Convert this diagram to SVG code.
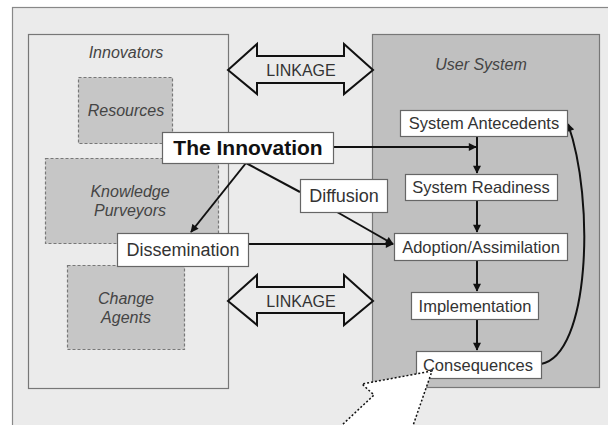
<svg xmlns="http://www.w3.org/2000/svg" width="608" height="425" viewBox="0 0 608 425">
<style>
.lbl{font-family:"Liberation Sans",Arial,sans-serif;fill:#333;text-anchor:middle}
.it{font-family:"Liberation Sans",Arial,sans-serif;font-style:italic;fill:#444;text-anchor:middle;font-size:16px}
.wbox{fill:#fff;stroke:#666;stroke-width:1.2}
.dbox{fill:#c6c6c6;stroke:#777;stroke-width:1.2;stroke-dasharray:3 2}
.con{fill:none;stroke:#111;stroke-width:2}
.link{fill:#ebebeb;stroke:#111;stroke-width:2;stroke-linejoin:miter}
</style>
<defs>
<marker id="ah" viewBox="0 0 10 10" refX="9" refY="5" markerWidth="9" markerHeight="8" markerUnits="userSpaceOnUse" orient="auto">
<path d="M0,0 L10,5 L0,10 z" fill="#111"/>
</marker>
</defs>
<rect width="608" height="425" fill="#fff"/>
<rect id="frame" x="12.5" y="7.5" width="640" height="440" fill="#ebebeb" stroke="#888" stroke-width="1.2"/>

<g id="innovators">
<rect x="28.5" y="34.5" width="200" height="354" fill="#ebebeb" stroke="#777" stroke-width="1.2"/>
<text class="it" x="126" y="58">Innovators</text>
</g>
<g id="resources">
<rect class="dbox" x="78.5" y="77.5" width="94" height="66"/>
<text class="it" x="126" y="116">Resources</text>
</g>
<g id="knowledge-purveyors">
<rect class="dbox" x="45.5" y="158.5" width="173" height="85"/>
<text class="it" x="130" y="197">Knowledge</text>
<text class="it" x="130" y="216">Purveyors</text>
</g>
<g id="change-agents">
<rect class="dbox" x="67.5" y="265.5" width="117" height="84"/>
<text class="it" x="126" y="304">Change</text>
<text class="it" x="126" y="323">Agents</text>
</g>

<g id="user-system">
<rect x="372.5" y="34.5" width="227" height="353" fill="#c0c0c0" stroke="#777" stroke-width="1.2"/>
<text class="it" x="481" y="70">User System</text>
</g>

<g id="linkage-top">
<path class="link" d="M228,70 L257,44 L257,56 L344,56 L344,44 L373,70 L344,94 L344,83 L257,83 L257,94 Z"/>
<text class="lbl" x="301" y="76" font-size="16">LINKAGE</text>
</g>
<g id="linkage-bottom">
<path class="link" d="M228,301 L257,275 L257,287 L344,287 L344,275 L373,301 L344,325 L344,313 L257,313 L257,325 Z"/>
<text class="lbl" x="301" y="307" font-size="16">LINKAGE</text>
</g>

<g id="connectors">
<line class="con" x1="333" y1="147" x2="476" y2="147" marker-end="url(#ah)"/>
<line class="con" x1="477" y1="136" x2="477" y2="173" marker-end="url(#ah)"/>
<line class="con" x1="477" y1="200" x2="477" y2="232" marker-end="url(#ah)"/>
<line class="con" x1="477" y1="260" x2="477" y2="291" marker-end="url(#ah)"/>
<line class="con" x1="477" y1="319" x2="477" y2="350" marker-end="url(#ah)"/>
<line class="con" x1="246" y1="163" x2="191" y2="232" marker-end="url(#ah)"/>
<line class="con" x1="246" y1="163" x2="300" y2="192"/>
<line class="con" x1="337" y1="212" x2="393" y2="244" marker-end="url(#ah)"/>
<line class="con" x1="248" y1="244" x2="393" y2="244" marker-end="url(#ah)"/>
<path class="con" d="M541,364 C590,355 595,200 568,124" marker-end="url(#ah)"/>
</g>

<g id="the-innovation">
<rect class="wbox" x="162.5" y="132.5" width="171" height="31"/>
<text class="lbl" x="248" y="155" font-size="21" font-weight="bold" style="fill:#111">The Innovation</text>
</g>
<g id="diffusion">
<rect class="wbox" x="300.5" y="179.5" width="87" height="33"/>
<text class="lbl" x="344" y="202" font-size="18">Diffusion</text>
</g>
<g id="dissemination">
<rect class="wbox" x="117.5" y="233.5" width="131" height="33"/>
<text class="lbl" x="183" y="256" font-size="18">Dissemination</text>
</g>
<g id="system-antecedents">
<rect class="wbox" x="400.5" y="110.5" width="167" height="26"/>
<text class="lbl" x="484" y="129" font-size="16.5">System Antecedents</text>
</g>
<g id="system-readiness">
<rect class="wbox" x="405.5" y="174.5" width="152" height="26"/>
<text class="lbl" x="481" y="193" font-size="16.5">System Readiness</text>
</g>
<g id="adoption">
<rect class="wbox" x="394.5" y="233.5" width="173" height="27"/>
<text class="lbl" x="481" y="253" font-size="16.5">Adoption/Assimilation</text>
</g>
<g id="implementation">
<rect class="wbox" x="411.5" y="292.5" width="127" height="27"/>
<text class="lbl" x="475" y="312" font-size="16.5">Implementation</text>
</g>
<g id="consequences">
<rect class="wbox" x="416.5" y="351.5" width="125" height="27"/>
<text class="lbl" x="478" y="371" font-size="16.5">Consequences</text>
</g>

<g id="pointer">
<path d="M432,371 L362,384 L374,395 L326,440 L408,440 Z" fill="#fff" stroke="#111" stroke-width="1.5" stroke-dasharray="2 2"/>
</g>
</svg>
